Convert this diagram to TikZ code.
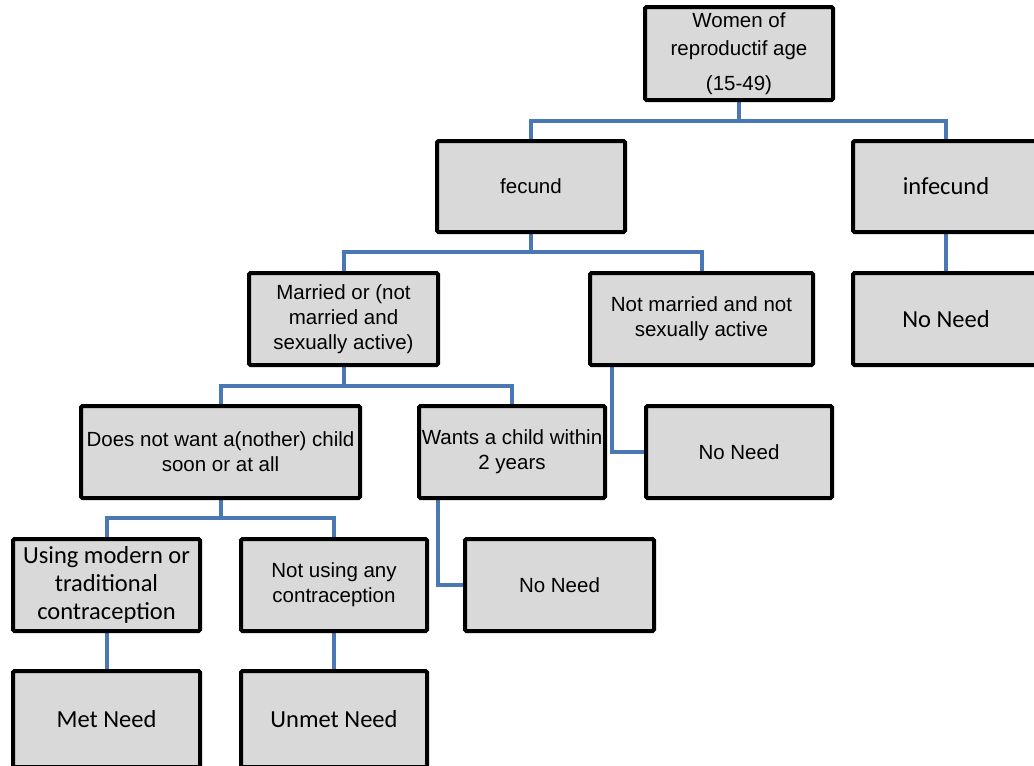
\documentclass[tikz,border=0pt]{standalone}
\usepackage{fontspec}
\setmainfont{Liberation Sans}
\newfontfamily\calfont{Carlito}
\usetikzlibrary{backgrounds}
\definecolor{boxgray}{HTML}{D9D9D9}
\definecolor{connblue}{HTML}{4A78B4}
\tikzset{
  box/.style={draw=black, line width=4pt, fill=boxgray, rounded corners=1.5pt,
    align=center, inner sep=0pt, font=\fontsize{20.5}{25}\selectfont},
  calbox/.style={box, font=\calfont\fontsize{24.5}{28}\selectfont},
  conn/.style={draw=connblue, line width=4pt}
}
\begin{document}
\begin{tikzpicture}[x=1pt,y=-1pt]
\useasboundingbox (0,0) rectangle (1034,766);
\clip (0,0) rectangle (1034,766);
% level 0
\node[box, minimum width=188pt, minimum height=93pt, font=\fontsize{20.5}{28}\selectfont] (women) at (739,53.5) {Women of\\reproductif age\\[7pt](15-49)};
% level 1
\node[box, minimum width=188pt, minimum height=91pt] (fecund) at (531,186.5) {fecund};
\node[calbox, minimum width=186pt, minimum height=91pt] (infecund) at (946,186.5) {infecund};
% level 2
\node[box, minimum width=189pt, minimum height=92pt] (married) at (343.5,319) {Married or (not\\married and\\sexually active)};
\node[box, minimum width=223pt, minimum height=92pt] (notmarried) at (701.5,319) {Not married and not\\sexually active};
\node[calbox, minimum width=186pt, minimum height=92pt] (noneedA) at (946,319) {No Need};
% level 3
\node[box, minimum width=279pt, minimum height=92pt] (doesnot) at (220.5,452) {Does not want a(nother) child\\soon or at all};
\node[box, minimum width=186pt, minimum height=92pt] (wants) at (512,452) {Wants a child within\\2 years};
\node[box, minimum width=186pt, minimum height=92pt] (noneedB) at (739,452) {No Need};
% level 4
\node[calbox, minimum width=187pt, minimum height=92pt] (using) at (106.5,585) {Using modern or\\traditional\\contraception};
\node[box, minimum width=186pt, minimum height=92pt] (notusing) at (334,585) {Not using any\\contraception};
\node[box, minimum width=189pt, minimum height=92pt] (noneedC) at (559.5,585) {No Need};
% level 5
\node[calbox, minimum width=187pt, minimum height=96pt] (met) at (106.5,719) {Met Need};
\node[calbox, minimum width=186pt, minimum height=96pt] (unmet) at (334,719) {Unmet Need};
% junctions
\coordinate (j1) at (739,121);
\coordinate (j2) at (531,252);
\coordinate (j3) at (343.5,386);
\coordinate (j4) at (220.5,518);
\coordinate (xa) at (612,0);
\coordinate (xb) at (438,0);
\begin{scope}[on background layer]
\draw[conn] (women.south) -- (j1);
\draw[conn] (fecund.north) |- (j1) -| (infecund.north);
\draw[conn] (fecund.south) -- (j2);
\draw[conn] (married.north) |- (j2) -| (notmarried.north);
\draw[conn] (infecund.south) -- (noneedA.north);
\draw[conn] (married.south) -- (j3);
\draw[conn] (doesnot.north) |- (j3) -| (wants.north);
\draw[conn] (notmarried.south -| xa) |- (noneedB.west);
\draw[conn] (doesnot.south) -- (j4);
\draw[conn] (using.north) |- (j4) -| (notusing.north);
\draw[conn] (wants.south -| xb) |- (noneedC.west);
\draw[conn] (using.south) -- (met.north);
\draw[conn] (notusing.south) -- (unmet.north);
\end{scope}
\end{tikzpicture}
\end{document}
